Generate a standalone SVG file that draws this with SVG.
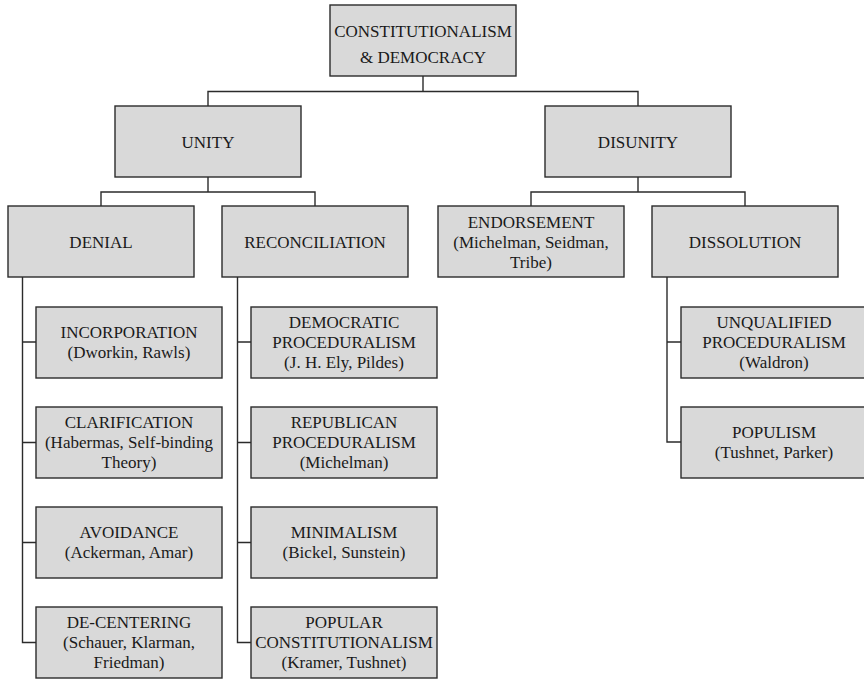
<svg xmlns="http://www.w3.org/2000/svg" xmlns:xlink="http://www.w3.org/1999/xlink" width="864" height="681" viewBox="0 0 864 681">
<defs>
<rect id="b" width="186" height="71" fill="#d9d9d9" stroke="#2b2b2b" stroke-width="1.4"/>
</defs>
<rect width="864" height="681" fill="#fff"/>
<g id="connectors" fill="none" stroke="#2b2b2b" stroke-width="1.4">
<path d="M423,76 V91.5 M208,106 V91.5 H638 V106"/>
<path d="M208,177 V192 M101,206 V192 H315 V206"/>
<path d="M638,177 V192 M531,206 V192 H745 V206"/>
<path d="M22.5,277 V642.5 H36 M22.5,342 H36 M22.5,442.5 H36 M22.5,542.5 H36"/>
<path d="M237.5,277 V642.5 H251 M237.5,342 H251 M237.5,442.5 H251 M237.5,542.5 H251"/>
<path d="M667,277 V442 H681 M667,342 H681"/>
</g>
<g id="nodes" font-family="Liberation Serif" font-size="17" fill="#1a1a1a" text-anchor="middle">
<g id="root"><use xlink:href="#b" x="330" y="5"/>
<text x="423" y="37">CONSTITUTIONALISM</text><text x="423" y="63">&amp; DEMOCRACY</text></g>
<g id="unity"><use xlink:href="#b" x="115" y="106"/>
<text x="208" y="148">UNITY</text></g>
<g id="disunity"><use xlink:href="#b" x="545" y="106"/>
<text x="638" y="148">DISUNITY</text></g>
<g id="denial"><use xlink:href="#b" x="8" y="206"/>
<text x="101" y="248">DENIAL</text></g>
<g id="reconciliation"><use xlink:href="#b" x="222" y="206"/>
<text x="315" y="248">RECONCILIATION</text></g>
<g id="endorsement"><use xlink:href="#b" x="438" y="206"/>
<text x="531" y="228">ENDORSEMENT</text><text x="531" y="248">(Michelman, Seidman,</text><text x="531" y="268">Tribe)</text></g>
<g id="dissolution"><use xlink:href="#b" x="652" y="206"/>
<text x="745" y="248">DISSOLUTION</text></g>
<g id="incorporation"><use xlink:href="#b" x="36" y="307"/>
<text x="129" y="338">INCORPORATION</text><text x="129" y="358">(Dworkin, Rawls)</text></g>
<g id="clarification"><use xlink:href="#b" x="36" y="407"/>
<text x="129" y="428">CLARIFICATION</text><text x="129" y="448">(Habermas, Self-binding</text><text x="129" y="468">Theory)</text></g>
<g id="avoidance"><use xlink:href="#b" x="36" y="507"/>
<text x="129" y="538">AVOIDANCE</text><text x="129" y="558">(Ackerman, Amar)</text></g>
<g id="decentering"><use xlink:href="#b" x="36" y="607"/>
<text x="129" y="628">DE-CENTERING</text><text x="129" y="648">(Schauer, Klarman,</text><text x="129" y="668">Friedman)</text></g>
<g id="democratic"><use xlink:href="#b" x="251" y="307"/>
<text x="344" y="328">DEMOCRATIC</text><text x="344" y="348">PROCEDURALISM</text><text x="344" y="368">(J. H. Ely, Pildes)</text></g>
<g id="republican"><use xlink:href="#b" x="251" y="407"/>
<text x="344" y="428">REPUBLICAN</text><text x="344" y="448">PROCEDURALISM</text><text x="344" y="468">(Michelman)</text></g>
<g id="minimalism"><use xlink:href="#b" x="251" y="507"/>
<text x="344" y="538">MINIMALISM</text><text x="344" y="558">(Bickel, Sunstein)</text></g>
<g id="popularconst"><use xlink:href="#b" x="251" y="607"/>
<text x="344" y="628">POPULAR</text><text x="344" y="648">CONSTITUTIONALISM</text><text x="344" y="668">(Kramer, Tushnet)</text></g>
<g id="unqualified"><use xlink:href="#b" x="681" y="307"/>
<text x="774" y="328">UNQUALIFIED</text><text x="774" y="348">PROCEDURALISM</text><text x="774" y="368">(Waldron)</text></g>
<g id="populism"><use xlink:href="#b" x="681" y="407"/>
<text x="774" y="438">POPULISM</text><text x="774" y="458">(Tushnet, Parker)</text></g>
</g>
</svg>
